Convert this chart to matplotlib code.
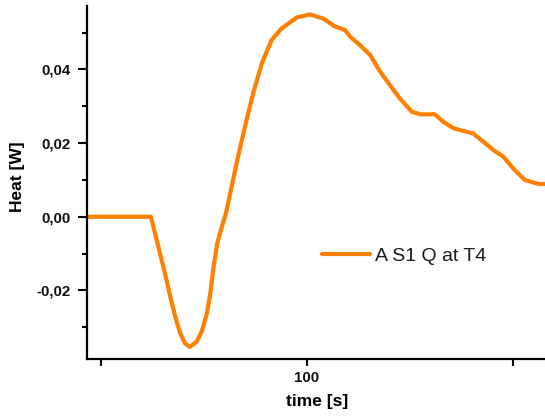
import matplotlib
matplotlib.use("Agg")
import matplotlib.pyplot as plt
from matplotlib.ticker import FixedLocator, MultipleLocator, FuncFormatter

# Heat flow trace (time in s, heat in W)
time_s = [46.7, 62.2, 63.2, 64.4, 65.6, 66.9, 68.1, 69.3, 70.5, 71.7, 73.3,
          74.5, 75.8, 76.6, 77.4, 78.3, 79.4, 80.4, 82.2, 83.8, 85.5, 87.1,
          89.1, 91.5, 93.9, 97.6, 100.8, 104.0, 106.9, 109.3, 110.5, 112.9,
          115.4, 117.8, 120.2, 122.6, 125.5, 127.5, 131.1, 133.1, 135.6,
          138.0, 140.4, 142.8, 145.3, 147.7, 150.1, 152.9, 156.2, 157.8]
heat_w = [0.0, 0.0, -0.0045, -0.0099, -0.0153, -0.0217, -0.0271, -0.0316,
          -0.0344, -0.0353, -0.0339, -0.0312, -0.0262, -0.0208, -0.0136,
          -0.0072, -0.0027, 0.0009, 0.0104, 0.0186, 0.0267, 0.0339, 0.0416,
          0.0480, 0.0511, 0.0541, 0.0549, 0.0538, 0.0516, 0.0507, 0.0489,
          0.0466, 0.0439, 0.0394, 0.0357, 0.0321, 0.0285, 0.0278, 0.0278,
          0.0258, 0.0240, 0.0233, 0.0226, 0.0204, 0.0181, 0.0163, 0.0131,
          0.0100, 0.0089, 0.0089]
series_name = "A S1 Q at T4"

x_ticks = [50, 100, 150]
x_tick_labels = ["", "100", ""]

plt.rcParams["font.family"] = ["Liberation Sans", "DejaVu Sans"]

W, H = 545, 417
fig = plt.figure(figsize=(W / 100, H / 100), dpi=100)
ax = fig.add_axes([87 / W, 1 - 359 / H, (W - 87) / W, (359 - 6) / H])

ax.plot(time_s, heat_w, color="#FF8000", lw=3.0, solid_joinstyle="round",
        solid_capstyle="round", label=series_name)

ax.set_xlim(46.7, 157.8)
ax.set_ylim(-0.0386, 0.0572)

for side in ("top", "right"):
    ax.spines[side].set_visible(False)
for side in ("left", "bottom"):
    ax.spines[side].set_linewidth(1.6)
    ax.spines[side].set_color("black")

ax.xaxis.set_major_locator(FixedLocator(x_ticks))
ax.set_xticklabels(x_tick_labels)
ax.yaxis.set_major_locator(MultipleLocator(0.02))
ax.yaxis.set_minor_locator(MultipleLocator(0.01))
ax.yaxis.set_major_formatter(
    FuncFormatter(lambda v, p: f"{v:.2f}".replace(".", ",").replace("-0,00", "0,00")))

ax.tick_params(axis="both", which="major", direction="out", length=5,
               width=1.5, color="black", labelsize=10.8, pad=4)
ax.tick_params(axis="y", which="major", length=6.5, pad=5)
ax.tick_params(axis="y", which="minor", direction="out", length=3.5,
               width=1.5, color="black")
for lab in ax.get_xticklabels() + ax.get_yticklabels():
    lab.set_fontweight("bold")
    lab.set_color("#111111")

ax.set_xlabel("time [s]", fontsize=12.5, fontweight="bold")
ax.set_ylabel("Heat [W]", fontsize=12.5, fontweight="bold")
ax.xaxis.set_label_coords((317.5 - 87) / (W - 87), (359 - 394) / 353)
ax.yaxis.set_label_coords((25 - 87) / (W - 87), (359 - 176.7) / 353)

leg = ax.legend(loc="center left", bbox_to_anchor=(321.7 / W, 1 - 256 / H),
                bbox_transform=fig.transFigure, frameon=False, fontsize=14,
                handlelength=2.5, handletextpad=0.25, borderpad=0,
                borderaxespad=0)
for t in leg.get_texts():
    t.set_color("#1a1a1a")

fig.savefig("out.png", dpi=100)
